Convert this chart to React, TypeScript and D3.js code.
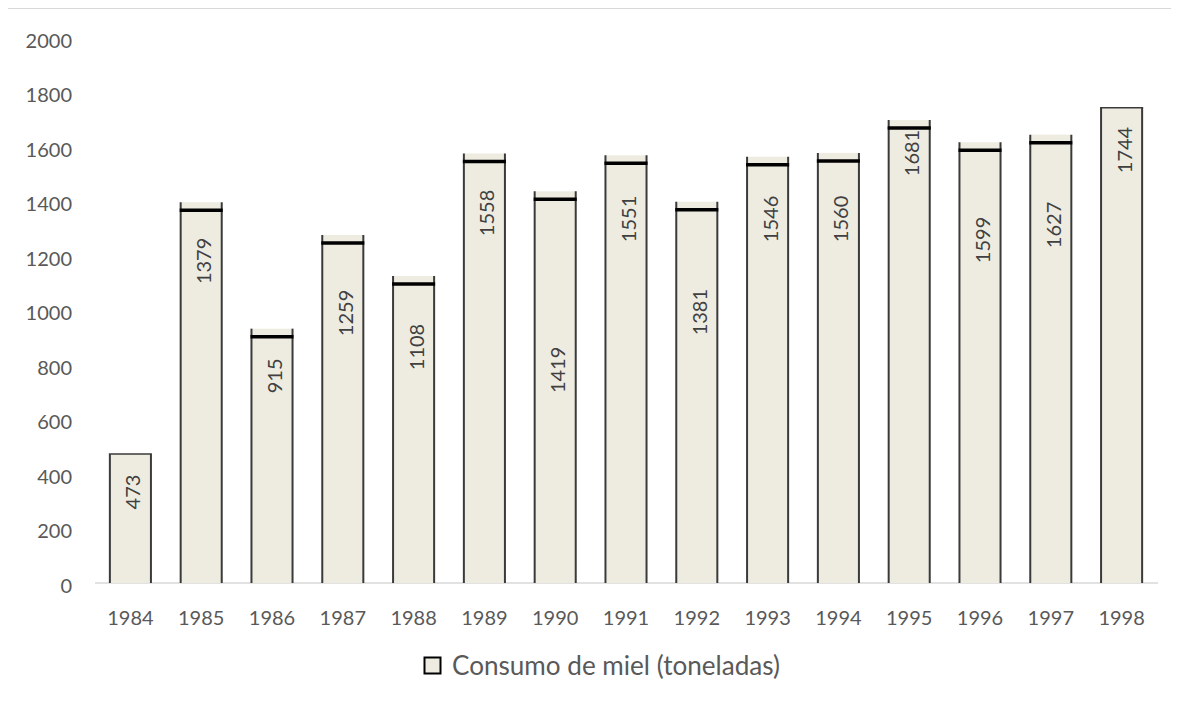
import React from "react";
import * as d3 from "d3";

const years = ["1984","1985","1986","1987","1988","1989","1990","1991","1992","1993","1994","1995","1996","1997","1998"];
const consumo = [473,1379,915,1259,1108,1558,1419,1551,1381,1546,1560,1681,1599,1627,1744];
// where each rotated data label is centred, in data units
const labelAt = [334,1182,760,991,866,1358,782,1336,994,1336,1336,1578,1259,1314,1589];
const yTicks = [0,200,400,600,800,1000,1200,1400,1600,1800,2000];
const legendLabel = "Consumo de miel (toneladas)";

const FONT = "Lato, 'Open Sans', sans-serif";

export default function App() {
  const W = 1179, H = 707;
  const x = d3.scaleBand<string>().domain(years).range([95, 1157]).paddingInner(0.42).paddingOuter(0.21);
  const y = d3.scaleLinear().domain([0, 2000]).range([583, 38]);
  const bw = x.bandwidth();
  const last = years.length - 1;
  return (
    <svg width={W - 8} height={H - 8} style={{ display: "block" }}>
      <g transform="translate(-8,-8)">
        <rect x={7.5} y={8.5} width={1200} height={800} fill="#fff" stroke="#D9D9D9" strokeWidth={1} />
        {yTicks.map((t) => (
          <text key={t} x={72} y={y(t) + 9.5} textAnchor="end" fontFamily={FONT} fontSize={20} fill="#595959">{t}</text>
        ))}
        <line x1={95} x2={1158} y1={y(0)} y2={y(0)} stroke="#D9D9D9" strokeWidth={1.5} />
        {years.map((yr, i) => {
          const v = consumo[i];
          const x0 = x(yr)!;
          const plain = i === 0 || i === last;
          const top = plain ? y(v) : y(v) - 5;
          return (
            <g key={yr}>
              <rect x={x0} y={top} width={bw} height={y(0) - top} fill="#EEECE1" />
              <line x1={x0} x2={x0} y1={top} y2={y(0)} stroke="#3a3a3a" strokeWidth={2} />
              <line x1={x0 + bw} x2={x0 + bw} y1={top} y2={y(0)} stroke="#3a3a3a" strokeWidth={2} />
              {plain ? (
                <line x1={x0 - 1} x2={x0 + bw + 1} y1={top} y2={top} stroke="#3a3a3a" strokeWidth={1.5} />
              ) : (
                <line x1={x0 - 1} x2={x0 + bw + 1} y1={y(v) + 3} y2={y(v) + 3} stroke="#000" strokeWidth={3.5} />
              )}
              <text
                transform={`translate(${x0 + bw / 2 + 10},${y(labelAt[i])}) rotate(-90)`}
                textAnchor="middle"
                fontFamily={FONT}
                fontSize={20}
                fill="#404040"
              >{v}</text>
              <text x={x0 + bw / 2} y={625} textAnchor="middle" fontFamily={FONT} fontSize={20} fill="#595959">{yr}</text>
            </g>
          );
        })}
        <rect x={424.5} y={657.5} width={16} height={16} fill="#EEECE1" stroke="#000" strokeWidth={2} />
        <text x={452} y={675} fontFamily={FONT} fontSize={26} fill="#595959" textLength={328} lengthAdjust="spacingAndGlyphs">{legendLabel}</text>
      </g>
    </svg>
  );
}
